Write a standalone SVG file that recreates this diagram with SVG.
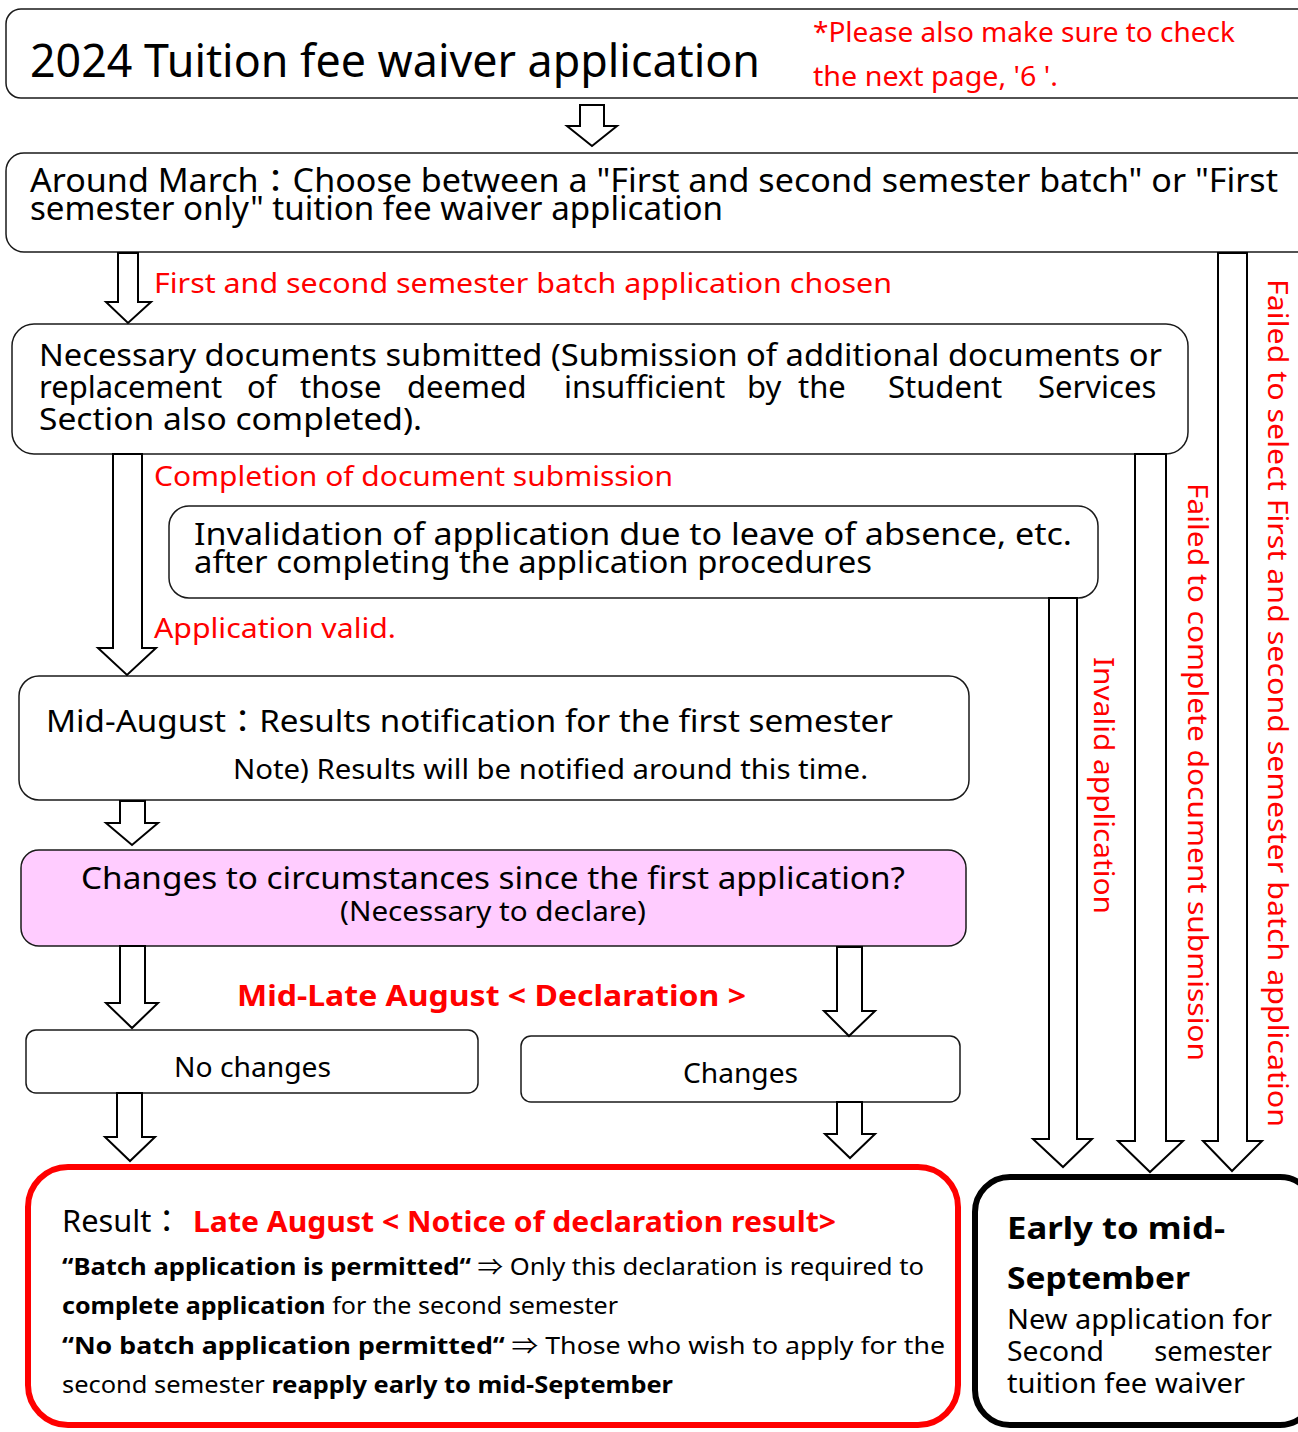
<svg xmlns="http://www.w3.org/2000/svg" width="1298" height="1432" viewBox="0 0 1298 1432">
<style>
.box{fill:#fff;stroke:#1a1a1a;stroke-width:1.5}
.arr{fill:#fff;stroke:#000;stroke-width:2;stroke-linejoin:miter}
text{font-family:"Noto Sans","Noto Sans CJK JP",sans-serif;fill:#000}
.r{fill:#ff0000}
.b{font-weight:bold}
</style>
<rect width="1298" height="1432" fill="#fff"/>

<g id="n-title">
<rect class="box" x="6" y="9" width="1310" height="89" rx="15"/>
<text x="30" y="77" font-size="45" textLength="730" lengthAdjust="spacingAndGlyphs">2024 Tuition fee waiver application</text>
<text class="r" x="813" y="42" font-size="27" textLength="422" lengthAdjust="spacingAndGlyphs">*Please also make sure to check</text>
<text class="r" x="813" y="86" font-size="27" textLength="245" lengthAdjust="spacingAndGlyphs">the next page, '6 '.</text>
</g>

<g id="n-march">
<rect class="box" x="6" y="153" width="1310" height="99" rx="18"/>
<text x="30" y="192" font-size="32" textLength="1248" lengthAdjust="spacingAndGlyphs">Around March：Choose between a "First and second semester batch" or "First</text>
<text x="30" y="220" font-size="32" textLength="693" lengthAdjust="spacingAndGlyphs">semester only" tuition fee waiver application</text>
</g>

<g id="n-docs">
<rect class="box" x="12" y="324" width="1176" height="130" rx="22"/>
<text x="39" y="366" font-size="31" textLength="1123" lengthAdjust="spacingAndGlyphs">Necessary documents submitted (Submission of additional documents or</text>
<text y="398" font-size="31"><tspan x="39">replacement</tspan><tspan x="247">of</tspan><tspan x="300">those</tspan><tspan x="407">deemed</tspan><tspan x="564">insufficient</tspan><tspan x="747">by</tspan><tspan x="798">the</tspan><tspan x="888">Student</tspan><tspan x="1038">Services</tspan></text>
<text x="39" y="430" font-size="31" textLength="383" lengthAdjust="spacingAndGlyphs">Section also completed).</text>
</g>

<g id="n-invalidation">
<rect class="box" x="169" y="506" width="929" height="92" rx="20"/>
<text x="194" y="545" font-size="31" textLength="878" lengthAdjust="spacingAndGlyphs">Invalidation of application due to leave of absence, etc.</text>
<text x="194" y="573" font-size="31" textLength="678" lengthAdjust="spacingAndGlyphs">after completing the application procedures</text>
</g>

<g id="n-midaugust">
<rect class="box" x="19" y="676" width="950" height="124" rx="20"/>
<text x="46" y="732" font-size="31" textLength="847" lengthAdjust="spacingAndGlyphs">Mid-August：Results notification for the first semester</text>
<text x="233" y="779" font-size="27" textLength="635" lengthAdjust="spacingAndGlyphs">Note) Results will be notified around this time.</text>
</g>

<g id="n-changes-q">
<rect x="21" y="850" width="945" height="96" rx="18" fill="#ffccff" stroke="#1a1a1a" stroke-width="1.5"/>
<text x="81" y="889" font-size="31" textLength="824" lengthAdjust="spacingAndGlyphs">Changes to circumstances since the first application?</text>
<text x="340" y="921" font-size="27" textLength="306" lengthAdjust="spacingAndGlyphs">(Necessary to declare)</text>
</g>

<g id="n-nochanges">
<rect class="box" x="26" y="1030" width="452" height="63" rx="10"/>
<text x="174" y="1077" font-size="27" textLength="157" lengthAdjust="spacingAndGlyphs">No changes</text>
</g>

<g id="n-changes">
<rect class="box" x="521" y="1036" width="439" height="66" rx="10"/>
<text x="683" y="1083" font-size="27" textLength="115" lengthAdjust="spacingAndGlyphs">Changes</text>
</g>

<g id="n-result">
<rect x="28" y="1167" width="930" height="258" rx="40" fill="#fff" stroke="#ff0000" stroke-width="6"/>
<text x="62" y="1232" font-size="31" textLength="120" lengthAdjust="spacingAndGlyphs">Result：</text>
<text class="r b" x="193" y="1232" font-size="28" textLength="643" lengthAdjust="spacingAndGlyphs">Late August &lt; Notice of declaration result&gt;</text>
<text x="62" y="1275" font-size="23" textLength="862" lengthAdjust="spacingAndGlyphs"><tspan class="b">“Batch application is permitted“</tspan> ⇒ Only this declaration is required to</text>
<text x="62" y="1314" font-size="23" textLength="556" lengthAdjust="spacingAndGlyphs"><tspan class="b">complete application</tspan> for the second semester</text>
<text x="62" y="1354" font-size="23" textLength="883" lengthAdjust="spacingAndGlyphs"><tspan class="b">“No batch application permitted“</tspan> ⇒ Those who wish to apply for the</text>
<text x="62" y="1393" font-size="23" textLength="611" lengthAdjust="spacingAndGlyphs">second semester <tspan class="b">reapply early to mid-September</tspan></text>
</g>

<g id="n-september">
<rect x="975" y="1177" width="340" height="248" rx="35" fill="#fff" stroke="#000" stroke-width="6"/>
<text class="b" x="1007" y="1239" font-size="30" textLength="218" lengthAdjust="spacingAndGlyphs">Early to mid-</text>
<text class="b" x="1007" y="1289" font-size="30" textLength="183" lengthAdjust="spacingAndGlyphs">September</text>
<text x="1007" y="1329" font-size="27" textLength="265" lengthAdjust="spacingAndGlyphs">New application for</text>
<text x="1007" y="1361" font-size="27" textLength="97" lengthAdjust="spacingAndGlyphs">Second</text>
<text x="1272" y="1361" font-size="27" text-anchor="end">semester</text>
<text x="1007" y="1393" font-size="27" textLength="238" lengthAdjust="spacingAndGlyphs">tuition fee waiver</text>
</g>

<g id="connectors">
<polygon class="arr" points="580,105 604,105 604,126 617,126 592,146 567,126 580,126"/>
<polygon class="arr" points="118,253 138,253 138,302 151,302 128,323 106,302 118,302"/>
<polygon class="arr" points="113,454 142,454 142,648 156,648 127,675 98,648 113,648"/>
<polygon class="arr" points="120,801 145,801 145,823 158,823 132,845 106,823 120,823"/>
<polygon class="arr" points="120,946 145,946 145,1003 158,1003 132,1028 106,1003 120,1003"/>
<polygon class="arr" points="837,947 862,947 862,1011 875,1011 849,1036 824,1011 837,1011"/>
<polygon class="arr" points="117,1093 142,1093 142,1137 155,1137 130,1161 105,1137 117,1137"/>
<polygon class="arr" points="837,1102 862,1102 862,1134 875,1134 850,1158 825,1134 837,1134"/>
<polygon class="arr" points="1049,598 1077,598 1077,1139 1092,1139 1063,1167 1033,1139 1049,1139"/>
<polygon class="arr" points="1135,454 1166,454 1166,1141 1183,1141 1150,1172 1118,1141 1135,1141"/>
<polygon class="arr" points="1218,253 1247,253 1247,1141 1262,1141 1232,1171 1203,1141 1218,1141"/>
<text class="r" x="154" y="293" font-size="28" textLength="738" lengthAdjust="spacingAndGlyphs">First and second semester batch application chosen</text>
<text class="r" x="154" y="486" font-size="27" textLength="519" lengthAdjust="spacingAndGlyphs">Completion of document submission</text>
<text class="r" x="154" y="638" font-size="27" textLength="242" lengthAdjust="spacingAndGlyphs">Application valid.</text>
<text class="r b" x="237" y="1006" font-size="29" textLength="509" lengthAdjust="spacingAndGlyphs">Mid-Late August &lt; Declaration &gt;</text>
<text class="r" transform="translate(1094,657) rotate(90)" font-size="27" textLength="257" lengthAdjust="spacingAndGlyphs">Invalid application</text>
<text class="r" transform="translate(1188,483) rotate(90)" font-size="27" textLength="578" lengthAdjust="spacingAndGlyphs">Failed to complete document submission</text>
<text class="r" transform="translate(1268,279) rotate(90)" font-size="27" textLength="848" lengthAdjust="spacingAndGlyphs">Failed to select First and second semester batch application</text>
</g>
</svg>
